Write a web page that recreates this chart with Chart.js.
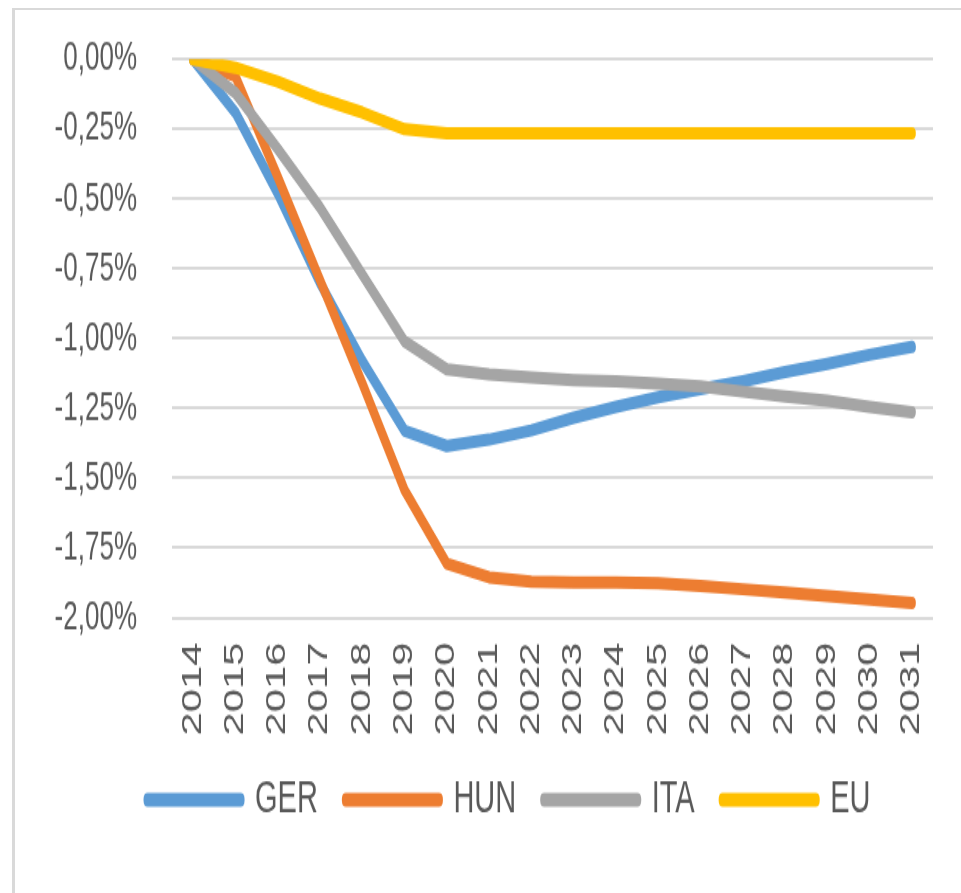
<!DOCTYPE html>
<html>
<head>
<meta charset="utf-8">
<script src="https://cdn.jsdelivr.net/npm/chart.js@4.4.1/dist/chart.umd.min.js"></script>
<style>
  html, body { margin: 0; padding: 0; background: #ffffff; overflow: hidden; }
  #frame { position: absolute; left: 12px; top: 8px; width: 1000px; height: 1000px;
           border-left: 3px solid #d9d9d9; border-top: 2px solid #d9d9d9; box-sizing: border-box; }
  #wrap { position: absolute; left: 0; top: 0; width: 961px; height: 576px;
          transform: scaleY(1.55); transform-origin: 0 0; }
</style>
</head>
<body>
<div id="frame"></div>
<div id="wrap"><canvas id="c" width="961" height="576"></canvas></div>
<script>
const years = ['2014','2015','2016','2017','2018','2019','2020','2021','2022','2023','2024','2025','2026','2027','2028','2029','2030','2031'];
const seriesNames = ['GER', 'HUN', 'ITA', 'EU'];
const gerValues = [0, -0.19, -0.48, -0.80, -1.08, -1.33, -1.385, -1.362, -1.329, -1.284, -1.245, -1.21, -1.181, -1.153, -1.12, -1.091, -1.058, -1.03];
const hunValues = [0, -0.06, -0.42, -0.79, -1.16, -1.543, -1.806, -1.855, -1.871, -1.874, -1.874, -1.876, -1.886, -1.898, -1.91, -1.922, -1.935, -1.947];
const itaValues = [0, -0.12, -0.32, -0.53, -0.77, -1.01, -1.11, -1.128, -1.14, -1.149, -1.153, -1.161, -1.171, -1.19, -1.208, -1.223, -1.245, -1.264];
const euValues  = [0, -0.03, -0.08, -0.14, -0.19, -0.25, -0.265, -0.265, -0.265, -0.265, -0.265, -0.265, -0.265, -0.265, -0.265, -0.265, -0.265, -0.265];
const yTickValues = [0, -0.25, -0.5, -0.75, -1, -1.25, -1.5, -1.75, -2];

const colors = ['#5B9BD5', '#ED7D31', '#A5A5A5', '#FFC000'];
const allValues = [gerValues, hunValues, itaValues, euValues];
const drawOrder = [4, 3, 2, 1];
const FONT = "'Liberation Sans', Arial, sans-serif";

const datasets = seriesNames.map((name, i) => ({
  label: name,
  data: allValues[i],
  borderColor: colors[i],
  backgroundColor: colors[i],
  borderWidth: 8,
  borderCapStyle: 'round',
  borderJoinStyle: 'round',
  pointRadius: 0,
  pointHoverRadius: 0,
  tension: 0,
  fill: false,
  order: drawOrder[i]
}));

const shiftLegend = {
  id: 'shiftLegend',
  afterLayout(chart) {
    const lg = chart.legend;
    if (lg) { lg.left += 32; lg.right += 32; }
  }
};

new Chart(document.getElementById('c'), {
  type: 'line',
  data: { labels: years, datasets: datasets },
  plugins: [shiftLegend],
  options: {
    responsive: false,
    animation: false,
    devicePixelRatio: 1,
    layout: { padding: { left: 20, right: 27, top: 38.3, bottom: 35.5 } },
    plugins: {
      tooltip: { enabled: false },
      title: { display: false },
      legend: {
        position: 'bottom',
        align: 'center',
        labels: {
          boxWidth: 93,
          boxHeight: 1,
          padding: 28,
          color: '#595959',
          font: { family: FONT, size: 29 },
          sort: (a, b) => a.datasetIndex - b.datasetIndex
        }
      }
    },
    scales: {
      x: {
        type: 'category',
        offset: true,
        grid: { display: false, drawTicks: false },
        border: { display: false },
        ticks: {
          minRotation: 90, maxRotation: 90, autoSkip: false,
          padding: 16,
          color: '#595959',
          font: { family: FONT, size: 27 }
        },
        afterFit: (scale) => { scale.height = 75; }
      },
      y: {
        min: -2, max: 0,
        afterBuildTicks: (scale) => { scale.ticks = yTickValues.map(v => ({ value: v })); },
        grid: { color: '#d9d9d9', lineWidth: 2, drawTicks: true, tickLength: 35, tickColor: 'rgba(0,0,0,0)' },
        border: { display: false },
        ticks: {
          padding: 0,
          color: '#595959',
          font: { family: FONT, size: 26 },
          callback: (v) => (Math.abs(v) < 1e-9 ? 0 : v).toFixed(2).replace('.', ',') + '%'
        },
        afterFit: (scale) => { scale.width = 152; }
      }
    }
  }
});
</script>
</body>
</html>
